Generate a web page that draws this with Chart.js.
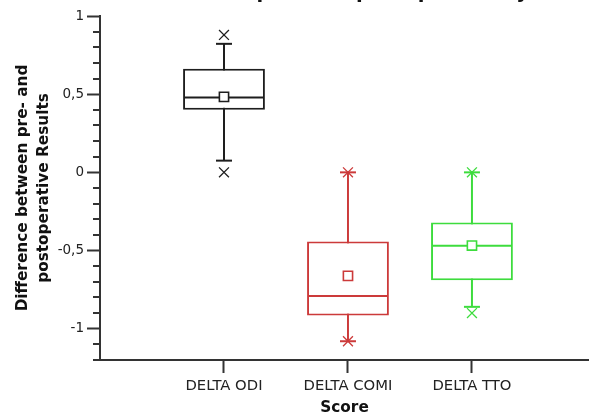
<!DOCTYPE html>
<html>
<head>
<meta charset="utf-8">
<script src="https://cdn.jsdelivr.net/npm/chart.js@4/dist/chart.umd.min.js"></script>
<style>
  html, body { margin: 0; padding: 0; background: #ffffff; }
  #wrap { width: 589px; height: 416px; }
</style>
</head>
<body>
<div id="wrap"><canvas id="c" width="589" height="416"></canvas></div>
<script>
// ---- data ----
const chartTitle = 'Difference pre- and postoperatively';
const categories = ['DELTA ODI', 'DELTA COMI', 'DELTA TTO'];
const positions = [1, 2, 3];
const whiskerLow = [0.075, -1.08, -0.86];
const q1 = [0.40, -0.915, -0.69];
const median = [0.478, -0.79, -0.47];
const q3 = [0.662, -0.442, -0.321];
const whiskerHigh = [0.822, 0.0, 0.0];
const means = [0.483, -0.662, -0.468];
const extremeLow = [0.0, -1.08, -0.90];
const extremeHigh = [0.879, 0.0, 0.0];
const yMajorTicks = [-1, -0.5, 0, 0.5, 1];
const yMinorStep = 0.1;

// ---- styles ----
const colors = ['#1e1e1e', '#cc3a3a', '#3ddc3d'];
const axisColor = '#333333';
const fontFamily = '"DejaVu Sans", Verdana, sans-serif';

const pts = (vals) => positions.map((p, i) => ({ x: p, y: vals[i] }));

const whiskerSets = positions.map((p, i) => ({
  type: 'line',
  data: [{ x: p, y: whiskerLow[i] }, { x: p, y: whiskerHigh[i] }],
  borderColor: colors[i],
  borderWidth: 2,
  pointRadius: 0,
  order: 10
}));

const minorTicksPlugin = {
  id: 'minorTicks',
  afterDraw(chart) {
    const y = chart.scales.y;
    const ctx = chart.ctx;
    ctx.save();
    ctx.strokeStyle = axisColor;
    ctx.lineWidth = 2;
    const n0 = Math.round(y.min / yMinorStep), n1 = Math.round(y.max / yMinorStep);
    for (let k = n0; k <= n1; k++) {
      const v = k * yMinorStep;
      if (yMajorTicks.some(t => Math.abs(t - v) < 1e-9)) continue;
      const py = Math.round(y.getPixelForValue(v));
      ctx.beginPath();
      ctx.moveTo(y.right - 7, py);
      ctx.lineTo(y.right, py);
      ctx.stroke();
    }
    ctx.restore();
  }
};

const cutTitlePlugin = {
  id: 'cutTitle',
  afterDraw(chart) {
    const ctx = chart.ctx;
    ctx.save();
    ctx.font = 'bold 19.5px ' + fontFamily;
    ctx.textAlign = 'right';
    ctx.textBaseline = 'alphabetic';
    ctx.fillStyle = '#111111';
    ctx.fillText(chartTitle, 529, -2);
    ctx.restore();
  }
};

new Chart(document.getElementById('c'), {
  type: 'bar',
  data: {
    datasets: [
      ...whiskerSets,
      {
        type: 'bar',
        data: positions.map((p, i) => ({ x: p, y: [q1[i], q3[i]] })),
        backgroundColor: '#ffffff',
        borderColor: colors,
        borderWidth: 2,
        borderSkipped: false,
        barPercentage: 0.66,
        categoryPercentage: 1,
        grouped: false,
        order: 5
      },
      {
        type: 'line', showLine: false,
        data: [...pts(whiskerLow), ...pts(whiskerHigh)],
        pointStyle: 'line', pointRadius: 8,
        pointBorderColor: [...colors, ...colors], pointBorderWidth: 2,
        order: 3
      },
      {
        type: 'line', showLine: false,
        data: pts(median),
        pointStyle: 'line', pointRadius: 40,
        pointBorderColor: colors, pointBorderWidth: 2,
        order: 2
      },
      {
        type: 'line', showLine: false,
        data: pts(means),
        pointStyle: 'rect', pointRadius: 6.5,
        pointBackgroundColor: '#ffffff',
        pointBorderColor: colors, pointBorderWidth: 1.6,
        order: 1
      },
      {
        type: 'line', showLine: false,
        data: [...pts(extremeLow), ...pts(extremeHigh)],
        pointStyle: 'crossRot', pointRadius: 7,
        pointBorderColor: [...colors, ...colors], pointBorderWidth: 1.3,
        order: 0
      }
    ]
  },
  options: {
    responsive: false,
    animation: false,
    devicePixelRatio: 1,
    layout: { autoPadding: false, padding: { top: 16, right: 0, bottom: 0, left: 0 } },
    plugins: { legend: { display: false }, tooltip: { enabled: false }, title: { display: false } },
    scales: {
      x: {
        type: 'linear',
        offset: false,
        min: 0,
        max: 3.944,
        afterBuildTicks: (s) => { s.ticks = positions.map(v => ({ value: v })); },
        afterFit: (s) => { s.height = 56; },
        ticks: {
          autoSkip: false, maxRotation: 0,
          callback: (v) => categories[positions.indexOf(v)],
          font: { family: fontFamily, size: 14.8 },
          color: '#222222',
          padding: 4
        },
        grid: { offset: false, drawOnChartArea: false, tickLength: 13, tickColor: axisColor, tickWidth: 2 },
        border: { color: axisColor, width: 2 },
        title: {
          display: true, text: 'Score', color: '#111111',
          font: { family: fontFamily, size: 15.3, weight: 'bold', lineHeight: 1.0 },
          padding: { top: 0, bottom: 0 }
        }
      },
      y: {
        type: 'linear',
        min: -1.2,
        max: 1,
        afterBuildTicks: (s) => { s.ticks = yMajorTicks.map(v => ({ value: v })); },
        afterFit: (s) => { s.width = 100; },
        ticks: {
          callback: (v) => String(v).replace('.', ','),
          font: { family: fontFamily, size: 13.5 },
          color: '#222222',
          padding: 3
        },
        grid: { drawOnChartArea: false, tickLength: 13, tickColor: axisColor, tickWidth: 2 },
        border: { color: axisColor, width: 2 },
        title: {
          display: true,
          text: ['Difference between pre- and', 'postoperative Results'],
          color: '#111111',
          font: { family: fontFamily, size: 15.3, weight: 'bold', lineHeight: 1.37 },
          padding: { top: 12.5, bottom: 0 }
        }
      }
    }
  },
  plugins: [minorTicksPlugin, cutTitlePlugin]
});
</script>
</body>
</html>
